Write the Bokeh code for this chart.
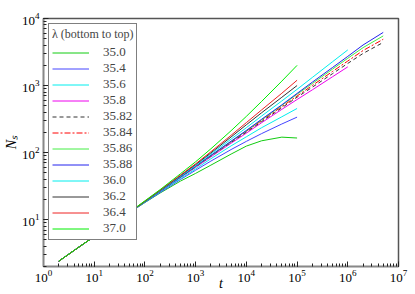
from bokeh.plotting import figure
from bokeh.models import Legend, LegendItem
from bokeh.embed import file_html
from bokeh.resources import INLINE

# time grid (shared)
t_grid = [2, 5, 10, 20, 50, 100, 200, 500, 1e3, 2e3, 5e3, 1e4, 2e4, 5e4,
          1e5, 2e5, 5e5, 1e6, 2e6, 5e6]

lambdas = ["35.0", "35.4", "35.6", "35.8", "35.82", "35.84", "35.86",
           "35.88", "36.0", "36.2", "36.4", "37.0"]

n_35_0 = [2.4, 3.9, 5.6, 8.0, 12.8, 18, 25, 37.5, 49, 65, 95, 125, 150, 170, 165]
n_35_4 = [2.4, 3.9, 5.6, 8.0, 12.8, 18.1, 25.4, 39.6, 54.6, 74.7, 111, 147, 192, 267, 338]
n_35_6 = [2.4, 3.9, 5.6, 8.0, 12.9, 18.3, 26, 40.9, 57, 81, 126, 172, 235, 342, 455]
n_35_8 = [2.4, 3.9, 5.6, 8.0, 12.9, 18.5, 26.4, 42.6, 60.1, 86.4, 138, 195, 279, 441, 619,
          863, 1352, 1900]
n_35_82 = [2.4, 3.9, 5.6, 8.0, 12.9, 18.5, 26.5, 42.8, 61.4, 88.7, 142, 202, 290, 465, 670,
           946, 1504, 2138, 3010, 4400]
n_35_84 = [2.4, 3.9, 5.6, 8.0, 12.9, 18.5, 26.5, 43, 62, 90, 145, 208, 300, 485, 698,
           1004, 1622, 2321, 3325, 4900]
n_35_86 = [2.4, 3.9, 5.6, 8.0, 12.9, 18.5, 26.5, 43, 62, 90, 146, 211, 308, 505, 742,
           1071, 1758, 2552, 3675, 5500]
n_35_88 = [2.4, 3.9, 5.6, 8.0, 12.9, 18.5, 26.5, 43.2, 62.6, 91, 148, 214, 314, 515, 763,
           1123, 1859, 2722, 4025, 6200]
n_36_0 = [2.4, 3.9, 5.6, 8.0, 12.9, 18.5, 26.8, 44.3, 64.5, 95.4, 159, 235, 351, 589, 878,
          1321, 2265, 3400]
n_36_2 = [2.4, 3.9, 5.6, 8.0, 12.9, 18.7, 27.3, 45.2, 66.3, 99, 171, 260, 393, 668, 1000]
n_36_4 = [2.4, 3.9, 5.6, 8.0, 12.9, 18.9, 27.6, 46, 68, 103, 181, 280, 433, 767, 1200]
n_37_0 = [2.4, 3.9, 5.6, 8.0, 13.0, 19.1, 28.1, 48.2, 73, 114, 212, 347, 580, 1163, 2000]

series = [n_35_0, n_35_4, n_35_6, n_35_8, n_35_82, n_35_84, n_35_86, n_35_88,
          n_36_0, n_36_2, n_36_4, n_37_0]

colors = ["#11cc11", "#4444ff", "#00eeee", "#ee00ee", "#333333", "#ff0000",
          "#44ee44", "#2222ee", "#00eeee", "#333333", "#ee2222", "#00ee00"]
dashes = ["solid", "solid", "solid", "solid", "4 3", "6 2 2 2", "solid",
          "solid", "solid", "solid", "solid", "solid"]

SERIF = "Liberation Serif"

p = figure(frame_width=355, frame_height=248,
           x_axis_type="log", y_axis_type="log",
           x_range=(1, 1e7), y_range=(2, 1e4),
           output_backend="svg", toolbar_location=None,
           min_border_left=42, min_border_right=18,
           min_border_top=18, min_border_bottom=28)

p.xgrid.visible = False
p.ygrid.visible = False
p.outline_line_color = "#555555"
p.outline_line_width = 1.5
p.background_fill_color = "white"
p.border_fill_color = "white"

for ax in (p.xaxis[0], p.yaxis[0]):
    ax.axis_line_color = "#888888"
    ax.axis_line_width = 1.5
    ax.major_tick_in = 5
    ax.major_tick_out = 0
    ax.minor_tick_in = 3
    ax.minor_tick_out = 0
    ax.major_tick_line_color = "#222222"
    ax.minor_tick_line_color = "#222222"
    ax.major_label_text_font = SERIF
    ax.major_label_text_font_size = "13px"
    ax.major_label_text_color = "black"
    ax.axis_label_text_font = SERIF
    ax.axis_label_text_font_style = "italic"
    ax.axis_label_text_font_size = "14px"
    ax.axis_label_text_color = "black"
p.xaxis.major_label_standoff = 3
p.yaxis.major_label_standoff = 4
p.xaxis.axis_label = "t"
p.xaxis.axis_label_standoff = -9
p.yaxis.axis_label = "N\u209b"
p.yaxis.axis_label_standoff = 0

items = []
for lab, n, c, d in zip(lambdas, series, colors, dashes):
    r = p.line(t_grid[:len(n)], n, line_color=c, line_width=1, line_dash=d)
    items.append(LegendItem(label=lab, renderers=[r]))

legend = Legend(items=items, location="top_left", title="λ (bottom to top)",
                title_text_font=SERIF, title_text_font_size="12px",
                title_text_font_style="normal", title_standoff=2,
                label_text_font=SERIF, label_text_font_size="13px",
                glyph_width=37, glyph_height=15, label_height=15,
                label_standoff=14, spacing=0, padding=3, margin=5,
                border_line_color="black", border_line_width=1,
                background_fill_color="white", background_fill_alpha=1)
p.add_layout(legend)

open("out.html", "w").write(file_html(p, INLINE))
